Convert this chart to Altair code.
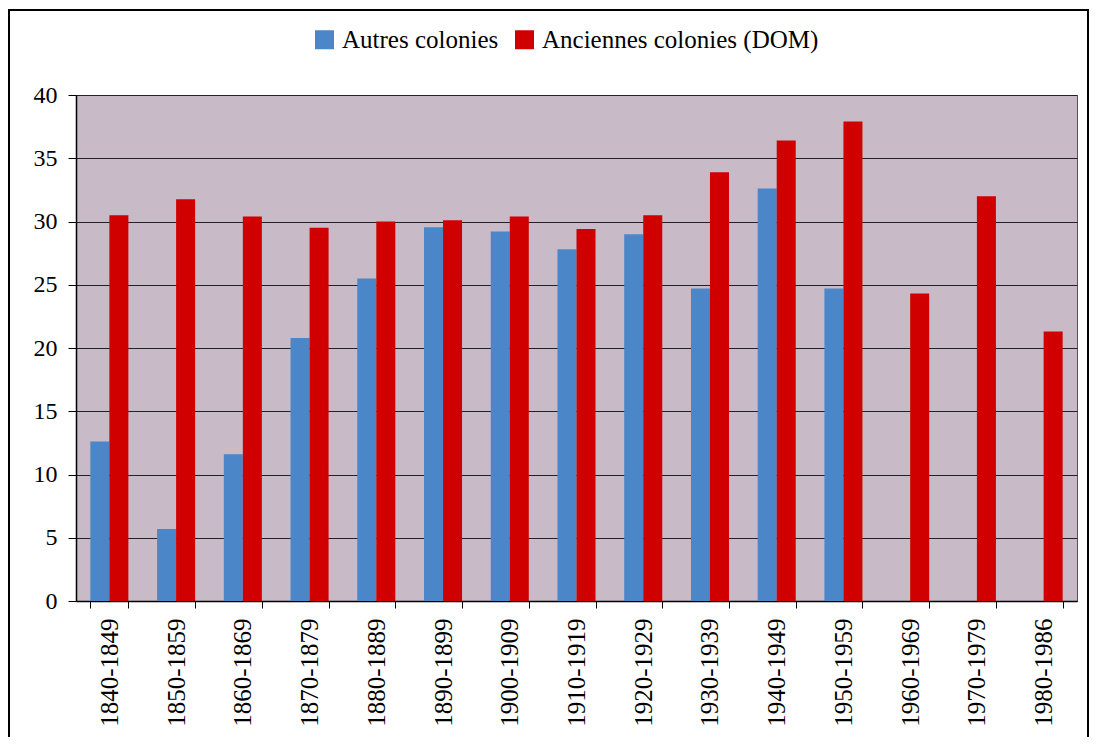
import altair as alt
import pandas as pd

periods = ["1840-1849", "1850-1859", "1860-1869", "1870-1879", "1880-1889",
           "1890-1899", "1900-1909", "1910-1919", "1920-1929", "1930-1939",
           "1940-1949", "1950-1959", "1960-1969", "1970-1979", "1980-1986"]
autres = [12.6, 5.7, 11.6, 20.8, 25.5, 29.55, 29.2, 27.8, 29.0, 24.7, 32.6, 24.7,
          None, None, None]
anciennes = [30.5, 31.75, 30.4, 29.5, 30.0, 30.1, 30.4, 29.4, 30.5, 33.9, 36.4, 37.9,
             24.3, 32.0, 21.3]
series = ["Autres colonies", "Anciennes colonies (DOM)"]
colors = ["#4a86c8", "#d00000"]

rows = []
for p, a, b in zip(periods, autres, anciennes):
    if a is not None:
        rows.append({"periode": p, "serie": series[0], "valeur": a})
    rows.append({"periode": p, "serie": series[1], "valeur": b})
df = pd.DataFrame(rows)

FONT = "Liberation Serif"

bars = alt.Chart(df).mark_bar().encode(
    x=alt.X("periode:N", sort=periods, title=None,
            scale=alt.Scale(paddingInner=0.43, paddingOuter=0.215),
            axis=alt.Axis(labelAngle=270, tickBand="extent", tickSize=7,
                          labelPadding=10, labelFontSize=25,
                          labelColor="black", domainColor="black", tickColor="black",
                          labelLimit=0, grid=False)),
    xOffset=alt.XOffset("serie:N", sort=series, scale=alt.Scale(domain=series)),
    y=alt.Y("valeur:Q", title=None,
            scale=alt.Scale(domain=[0, 40], nice=False),
            axis=alt.Axis(values=[0, 5, 10, 15, 20, 25, 30, 35, 40], tickSize=8,
                          labelPadding=11, labelFontSize=24,
                          labelColor="black", domainColor="black", tickColor="black",
                          gridColor="#222222", gridWidth=1.2)),
    color=alt.Color("serie:N", sort=series,
                    scale=alt.Scale(domain=series, range=colors),
                    legend=alt.Legend(title=None, orient="none", direction="horizontal",
                                      legendX=236, legendY=-68, symbolType="square",
                                      symbolSize=361, symbolStrokeWidth=0,
                                      labelFontSize=25, labelLimit=0,
                                      labelColor="black", columnPadding=13,
                                      labelOffset=5)),
)

frame = alt.Chart(df).mark_rect(fill=None, stroke="black", strokeWidth=2).encode(
    x=alt.value(-67), x2=alt.value(1012), y=alt.value(-85), y2=alt.value(700)
)

chart = alt.layer(frame, bars).properties(
    width=1001, height=506,
    autosize=alt.AutoSizeParams(type="none"),
    padding={"left": 68, "top": 87, "right": 12, "bottom": 136},
).configure(
    font=FONT
).configure_axis(
    domainWidth=1.5, labelFont=FONT
).configure_legend(
    labelFont=FONT
).configure_view(
    fill="#c9bac7", stroke="#555555", strokeWidth=1
)

chart.save("out.html", embed_options={"renderer": "svg", "actions": False})
